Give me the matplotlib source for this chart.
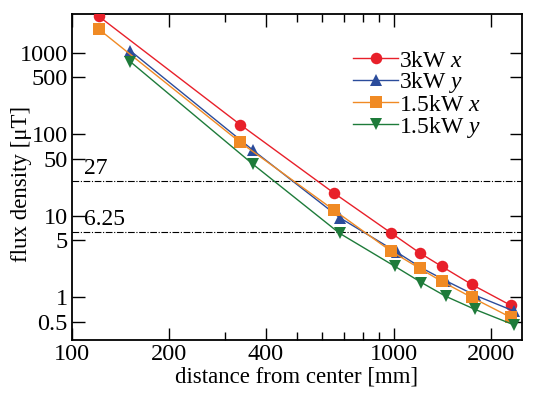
import matplotlib
matplotlib.use("Agg")
import matplotlib.pyplot as plt
from matplotlib.ticker import FixedLocator, NullFormatter, LogLocator

plt.rcParams["font.family"] = ["Liberation Serif", "DejaVu Serif"]
plt.rcParams["mathtext.fontset"] = "custom"
plt.rcParams["mathtext.it"] = "Liberation Serif:italic"
plt.rcParams["mathtext.rm"] = "Liberation Serif"

# distance [mm] and flux density [uT] per series
x_3kw_x = [121, 333, 651, 979, 1205, 1409, 1746, 2306]
y_3kw_x = [2820, 132, 19.1, 6.2, 3.5, 2.4, 1.44, 0.80]

x_3kw_y = [152, 365, 679, 1020, 1219, 1450, 1790, 2360]
y_3kw_y = [1057, 64, 9.5, 3.6, 2.3, 1.6, 1.06, 0.68]

x_15kw_x = [121, 333, 651, 979, 1205, 1409, 1746, 2306]
y_15kw_x = [1960, 80, 11.8, 3.7, 2.26, 1.57, 1.0, 0.57]

x_15kw_y = [152, 365, 679, 1010, 1219, 1450, 1790, 2360]
y_15kw_y = [776, 43, 6.1, 2.39, 1.52, 1.03, 0.71, 0.46]

limits = [27, 6.25]
limit_labels = ["27", "6.25"]

ytick_vals = [0.5, 1, 5, 10, 50, 100, 500, 1000]
ytick_labels = ["0.5", "1", "5", "10", "50", "100", "500", "1000"]
xtick_vals = [100, 200, 400, 1000, 2000]
xtick_labels = ["100", "200", "400", "1000", "2000"]

fig = plt.figure(figsize=(5.33, 3.99), dpi=100)
ax = fig.add_axes([0.135, 0.148, 0.844, 0.817])

series = [
    (x_3kw_x, y_3kw_x, "#E8202A", "o", "3kW $x$"),
    (x_3kw_y, y_3kw_y, "#2B4C9B", "^", "3kW $y$"),
    (x_15kw_x, y_15kw_x, "#F08A24", "s", "1.5kW $x$"),
    (x_15kw_y, y_15kw_y, "#1E7B3A", "v", "1.5kW $y$"),
]
for xs, ys, c, m, lab in series:
    ax.plot(xs, ys, color=c, marker=m, markersize=8.3, lw=1.0,
            markeredgewidth=0, label=lab, zorder=3)

for v, lab in zip(limits, limit_labels):
    ax.axhline(v, color="black", lw=0.8, ls=(0, (6, 1.5, 1, 1.5)), zorder=2)
    ax.text(109, v * 1.06, lab, fontsize=17, ha="left", va="bottom")

ax.set_xscale("log")
ax.set_yscale("log")
ax.set_xlim(100, 2500)
ax.set_ylim(0.3, 3000)

ax.xaxis.set_major_locator(FixedLocator(xtick_vals))
ax.set_xticklabels(xtick_labels)
ax.xaxis.set_minor_locator(LogLocator(base=10, subs=range(2, 10)))
ax.xaxis.set_minor_formatter(NullFormatter())
ax.yaxis.set_major_locator(FixedLocator(ytick_vals))
ax.set_yticklabels(ytick_labels)
ax.yaxis.set_minor_locator(FixedLocator([]))

ax.tick_params(axis="both", which="both", direction="in", top=True, right=True,
               labelsize=17.5, width=1.0)
ax.tick_params(axis="both", which="major", length=9, pad=3)
ax.tick_params(axis="x", which="minor", length=6)
for s in ax.spines.values():
    s.set_linewidth(1.3)

ax.set_xlabel("distance from center [mm]", fontsize=16.5, labelpad=1)
ax.set_ylabel("flux density [\u03bcT]", fontsize=16.5)
ax.yaxis.set_label_coords(-0.088, 0.478)

ax.legend(loc="upper right", bbox_to_anchor=(0.947, 0.94), frameon=False,
          fontsize=17, handlelength=1.9, handletextpad=0.05, labelspacing=-0.05,
          borderpad=0.2)

fig.savefig("out.png", dpi=100)
